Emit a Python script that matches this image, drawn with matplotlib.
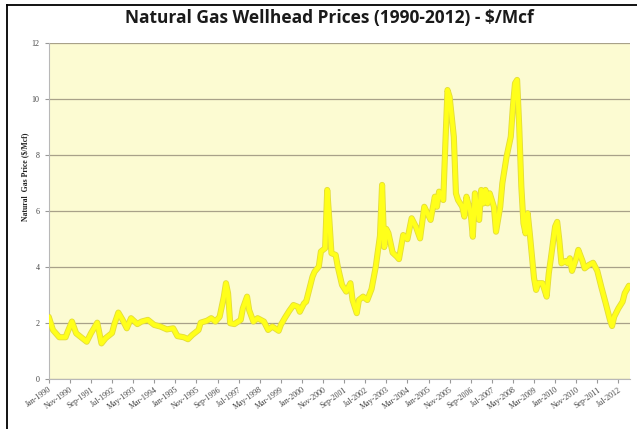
import matplotlib
matplotlib.use("Agg")
import matplotlib.pyplot as plt
import matplotlib.patheffects as pe
from matplotlib.lines import Line2D

dates = [
    "1990-01", "1990-03", "1990-06", "1990-09", "1990-10", "1990-12", "1991-02", "1991-05",
    "1991-07", "1991-09", "1991-12", "1992-02", "1992-04", "1992-07", "1992-08", "1992-10",
    "1992-12", "1993-02", "1993-04", "1993-07", "1993-09", "1993-12", "1994-03", "1994-06",
    "1994-09", "1994-12", "1995-02", "1995-05", "1995-07", "1995-09", "1995-12", "1996-01",
    "1996-04", "1996-06", "1996-08", "1996-10", "1996-12", "1997-01", "1997-02", "1997-03",
    "1997-05", "1997-08", "1997-09", "1997-11", "1997-12", "1998-02", "1998-04", "1998-07",
    "1998-09", "1998-11", "1999-02", "1999-03", "1999-05", "1999-07", "1999-09", "1999-11",
    "1999-12", "2000-02", "2000-03", "2000-06", "2000-07", "2000-09", "2000-10", "2000-12",
    "2001-01", "2001-02", "2001-03", "2001-05", "2001-06", "2001-08", "2001-10", "2001-12",
    "2002-01", "2002-03", "2002-04", "2002-06", "2002-08", "2002-10", "2002-12", "2003-02",
    "2003-03", "2003-04", "2003-05", "2003-06", "2003-08", "2003-10", "2003-11", "2004-01",
    "2004-03", "2004-05", "2004-07", "2004-09", "2004-11", "2005-02", "2005-04", "2005-05",
    "2005-06", "2005-08", "2005-09", "2005-10", "2005-11", "2006-01", "2006-02", "2006-03",
    "2006-05", "2006-06", "2006-07", "2006-09", "2006-10", "2006-11", "2007-01", "2007-02",
    "2007-03", "2007-04", "2007-05", "2007-06", "2007-08", "2007-09", "2007-11", "2007-12",
    "2008-02", "2008-04", "2008-05", "2008-06", "2008-07", "2008-08", "2008-09", "2008-10",
    "2008-11", "2008-12", "2009-01", "2009-03", "2009-04", "2009-05", "2009-07", "2009-09",
    "2009-10", "2009-11", "2010-01", "2010-02", "2010-03", "2010-04", "2010-06", "2010-07",
    "2010-08", "2010-09", "2010-11", "2010-12", "2011-02", "2011-03", "2011-05", "2011-07",
    "2011-09", "2011-11", "2012-01", "2012-03", "2012-04", "2012-05", "2012-07", "2012-09",
    "2012-10", "2012-12",
]
prices = [
    2.21, 1.74, 1.48, 1.48, 1.68, 2.04, 1.62, 1.44,
    1.32, 1.62, 2.00, 1.26, 1.45, 1.63, 1.92, 2.36,
    2.10, 1.80, 2.16, 1.95, 2.04, 2.10, 1.92, 1.86,
    1.76, 1.80, 1.52, 1.48, 1.41, 1.56, 1.74, 2.00,
    2.07, 2.16, 2.04, 2.21, 2.93, 3.41, 3.05, 1.98,
    1.95, 2.10, 2.51, 2.93, 2.45, 2.04, 2.16, 2.04,
    1.74, 1.86, 1.71, 1.92, 2.18, 2.42, 2.63, 2.57,
    2.39, 2.69, 2.75, 3.64, 3.82, 4.00, 4.54, 4.66,
    6.74, 5.67, 4.48, 4.42, 4.00, 3.35, 3.11, 3.41,
    2.81, 2.34, 2.81, 2.93, 2.81, 3.20, 4.00, 5.10,
    6.92, 4.70, 5.35, 5.20, 4.50, 4.36, 4.27, 5.13,
    4.98, 5.73, 5.43, 5.01, 6.14, 5.67, 6.50, 6.14,
    6.68, 6.38, 8.41, 10.31, 10.07, 8.64, 6.62, 6.38,
    6.14, 5.79, 6.50, 5.91, 5.07, 6.62, 5.67, 6.74,
    6.26, 6.74, 6.26, 6.62, 6.14, 5.25, 6.14, 6.98,
    7.93, 8.64, 9.71, 10.55, 10.67, 9.00, 6.86, 5.55,
    5.19, 5.91, 5.19, 3.60, 3.17, 3.41, 3.41, 2.93,
    3.76, 4.30, 5.43, 5.60, 4.95, 4.12, 4.20, 4.12,
    4.30, 3.85, 4.30, 4.60, 4.20, 3.94, 4.06, 4.14,
    3.85, 3.25, 2.69, 2.10, 1.88, 2.21, 2.51, 2.75,
    3.05, 3.32,
]

tick_labels = [
    "Jan-1990", "Nov-1990", "Sep-1991", "Jul-1992", "May-1993", "Mar-1994", "Jan-1995",
    "Nov-1995", "Sep-1996", "Jul-1997", "May-1998", "Mar-1999", "Jan-2000", "Nov-2000",
    "Sep-2001", "Jul-2002", "May-2003", "Mar-2004", "Jan-2005", "Nov-2005", "Sep-2006",
    "Jul-2007", "May-2008", "Mar-2009", "Jan-2010", "Nov-2010", "Sep-2011", "Jul-2012",
]

MONTHS = ["Jan", "Feb", "Mar", "Apr", "May", "Jun", "Jul", "Aug", "Sep", "Oct", "Nov", "Dec"]


def month_offset(s):
    y, m = s.split("-")
    return (int(y) - 1990) * 12 + int(m) - 1


x = [month_offset(d) for d in dates]
tick_pos = [(int(lab[4:]) - 1990) * 12 + MONTHS.index(lab[:3]) for lab in tick_labels]

fig = plt.figure(figsize=(6.37, 4.29), dpi=100)
fig.patch.set_facecolor("white")
ax = fig.add_axes([0.0765, 0.1173, 0.9125, 0.7832])
ax.set_facecolor("#FCFBD2")

# outer frame, only top and left visible in the original
fig.add_artist(Line2D([0.0115, 0.0115], [0, 0.988], color="black", lw=1.3, transform=fig.transFigure))
fig.add_artist(Line2D([0.0115, 1.0], [0.988, 0.988], color="black", lw=1.3, transform=fig.transFigure))

ax.plot(x, prices, color="#FFFF1A", lw=3.2, solid_joinstyle="round", solid_capstyle="round",
        path_effects=[pe.Stroke(linewidth=4.4, foreground="#E3DC3A"), pe.Normal()], zorder=3)

ax.set_xlim(0, 275.5)
ax.set_ylim(0, 12)
ax.set_yticks(range(0, 13, 2))
ax.yaxis.grid(True, color="#A8A189", lw=0.9)
ax.set_axisbelow(True)

for s in ["top", "right"]:
    ax.spines[s].set_visible(False)
ax.spines["left"].set_color("#B8B8B8")
ax.spines["bottom"].set_color("#B8B8B8")

ax.set_xticks(tick_pos)
ax.set_xticklabels(tick_labels, rotation=35, ha="right", rotation_mode="anchor",
                   family="Liberation Serif", fontsize=5.8, color="#444444")
ax.tick_params(axis="x", length=3, color="#999999", pad=2)
ax.tick_params(axis="y", length=3, color="#999999", labelsize=5.8, labelcolor="#444444")
for lab in ax.get_yticklabels():
    lab.set_family("Liberation Serif")

ax.set_ylabel("Natural  Gas Price ($/Mcf)", family="Liberation Serif", fontsize=5.6,
              fontweight="bold", color="#222222")
ax.yaxis.set_label_coords(-0.034, 0.6)

fig.text(0.517, 0.958, "Natural Gas Wellhead Prices (1990-2012) - $/Mcf", ha="center", va="center",
         family="Open Sans", fontweight="bold", fontsize=12.5, color="#1a1a1a")

fig.savefig("out.png", dpi=100)
